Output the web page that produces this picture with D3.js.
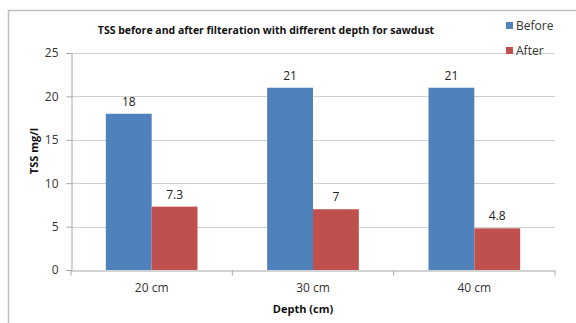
<!DOCTYPE html>
<html>
<head>
<meta charset="utf-8">
<script src="https://cdn.jsdelivr.net/npm/d3@7"></script>
<style>
  body { margin: 0; background: #fff; }
  svg { display: block; font-family: "Open Sans", "Liberation Sans", sans-serif; }
</style>
</head>
<body>
<svg id="chart"></svg>
<script>
// data
const depths = ["20 cm", "30 cm", "40 cm"];
const before = [18, 21, 21];
const after = [7.3, 7, 4.8];
const seriesNames = ["Before", "After"];
const yTicks = [0, 5, 10, 15, 20, 25];

const width = 576, height = 323;
const margin = {top: 53, right: 21, bottom: 53, left: 71};
const colors = ["#4F81BD", "#C0504D"];

const svg = d3.select("#chart")
    .attr("width", width)
    .attr("height", height);

// outer chart frame (right / bottom edges fall outside the picture)
svg.append("path")
    .attr("d", `M8.5,${height} V10.5 H${width}`)
    .attr("fill", "none")
    .attr("stroke", "#bfbfbf")
    .attr("stroke-width", 1.5);

const x0 = d3.scaleBand()
    .domain(depths)
    .range([margin.left, width - margin.right]);

const x1 = d3.scaleBand()
    .domain(seriesNames)
    .range([0, x0.bandwidth()])
    .paddingOuter(0.76)
    .paddingInner(0);

const y = d3.scaleLinear()
    .domain([0, 25])
    .range([height - margin.bottom, margin.top]);

// gridlines
svg.append("g")
    .selectAll("line")
    .data(yTicks.slice(1))
    .join("line")
    .attr("x1", margin.left)
    .attr("x2", width - margin.right)
    .attr("y1", d => Math.round(y(d)) + 0.5)
    .attr("y2", d => Math.round(y(d)) + 0.5)
    .attr("stroke", "#d0d0d0");

// y axis
const yAxis = svg.append("g")
    .attr("transform", `translate(${margin.left + 0.5},0)`)
    .call(d3.axisLeft(y).tickValues(yTicks).tickSize(5).tickPadding(8));
yAxis.select(".domain").attr("stroke", "#a6a6a6");
yAxis.selectAll(".tick line").attr("stroke", "#a6a6a6");
yAxis.selectAll(".tick text")
    .attr("fill", "#333")
    .style("font-size", "12px")
    .style("font-family", "Open Sans");

// x axis
const xAxis = svg.append("g")
    .attr("transform", `translate(0,${Math.round(y(0)) + 0.5})`)
    .call(d3.axisBottom(x0).tickSize(0).tickPadding(13));
xAxis.select(".domain").attr("stroke", "#a6a6a6");
xAxis.selectAll(".tick text")
    .attr("fill", "#333")
    .style("font-size", "12px")
    .style("font-family", "Open Sans");
// category separators
xAxis.selectAll(".sep")
    .data(depths.concat(["end"]))
    .join("line")
    .attr("x1", (d, i) => margin.left + i * x0.bandwidth())
    .attr("x2", (d, i) => margin.left + i * x0.bandwidth())
    .attr("y1", 0)
    .attr("y2", 5)
    .attr("stroke", "#a6a6a6");

// bars
const rows = depths.map((d, i) => ({depth: d, values: [before[i], after[i]]}));

const groups = svg.append("g")
    .selectAll("g")
    .data(rows)
    .join("g")
    .attr("transform", d => `translate(${x0(d.depth)},0)`);

groups.selectAll("rect")
    .data(d => d.values.map((v, j) => ({name: seriesNames[j], value: v, j: j})))
    .join("rect")
    .attr("x", d => x1(d.name))
    .attr("width", x1.bandwidth())
    .attr("y", d => y(d.value))
    .attr("height", d => y(0) - y(d.value))
    .attr("fill", d => colors[d.j]);

groups.selectAll("text")
    .data(d => d.values.map((v, j) => ({name: seriesNames[j], value: v})))
    .join("text")
    .attr("x", d => x1(d.name) + x1.bandwidth() / 2)
    .attr("y", d => y(d.value) - 8)
    .attr("text-anchor", "middle")
    .attr("fill", "#222")
    .style("font-size", "12px")
    .text(d => d.value);

// title
svg.append("text")
    .attr("x", 266)
    .attr("y", 34)
    .attr("text-anchor", "middle")
    .style("font-size", "10.5px")
    .style("font-weight", "bold")
    .attr("fill", "#111")
    .text("TSS before and after filteration with different depth for sawdust");

// axis titles
svg.append("text")
    .attr("transform", "translate(38,151) rotate(-90)")
    .attr("text-anchor", "middle")
    .style("font-size", "11px")
    .style("font-weight", "bold")
    .attr("fill", "#111")
    .text("TSS mg/l");

svg.append("text")
    .attr("x", 303)
    .attr("y", 313)
    .attr("text-anchor", "middle")
    .style("font-size", "11px")
    .style("font-weight", "bold")
    .attr("fill", "#111")
    .text("Depth (cm)");

// legend
const legend = svg.append("g")
    .selectAll("g")
    .data(seriesNames)
    .join("g")
    .attr("transform", (d, i) => `translate(506,${22 + i * 25})`);

legend.append("rect")
    .attr("width", 7)
    .attr("height", 7)
    .attr("fill", (d, i) => colors[i]);

legend.append("text")
    .attr("x", 10)
    .attr("y", 8)
    .style("font-size", "12px")
    .attr("fill", "#333")
    .text(d => d);
</script>
</body>
</html>
